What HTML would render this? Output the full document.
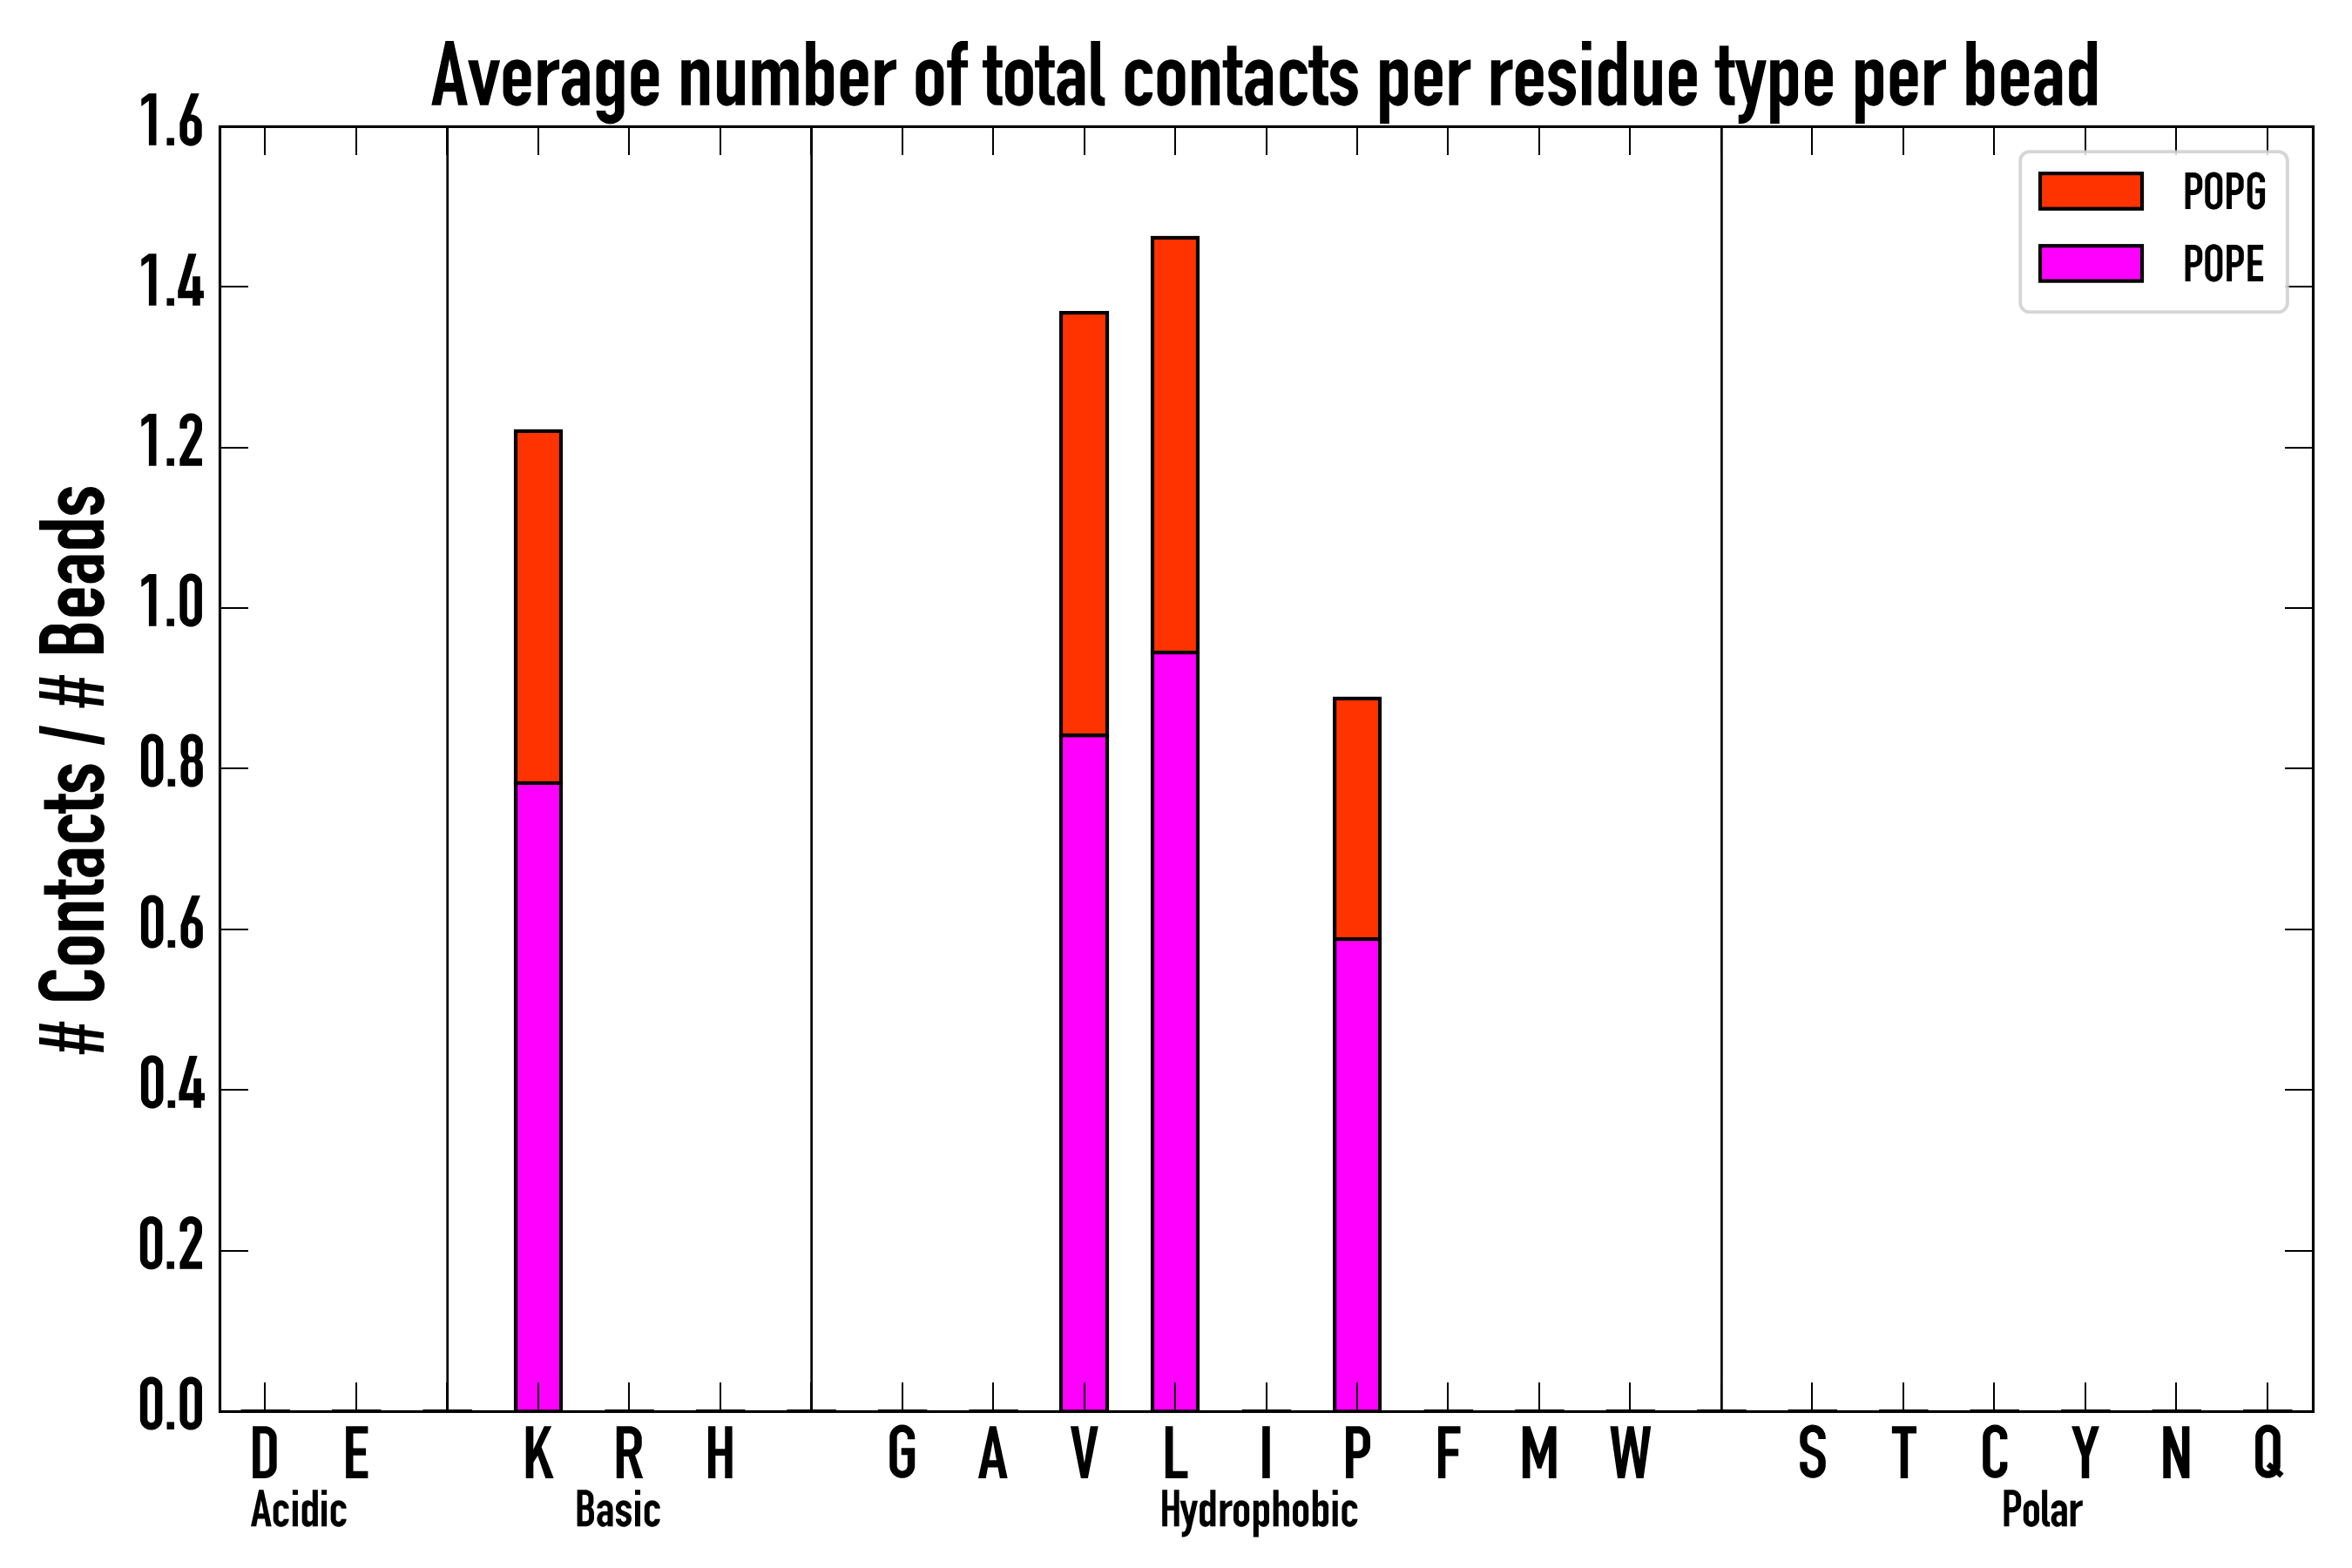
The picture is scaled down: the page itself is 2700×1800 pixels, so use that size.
<!DOCTYPE html>
<html><head><meta charset="utf-8"><title>Average number of total contacts per residue type per bead</title>
<style>
html,body{margin:0;padding:0;background:#fff;}
body{width:2700px;height:1800px;overflow:hidden;font-family:"Liberation Sans",sans-serif;}
svg{display:block;}
</style></head><body>
<svg width="2700" height="1800" viewBox="0 0 2700 1800">
<title>Average number of total contacts per residue type per bead</title>
<desc>Stacked bar chart. Y axis: # Contacts / # Beads, from 0.0 to 1.6. X axis residue types grouped as Acidic (D, E), Basic (K, R, H), Hydrophobic (G, A, V, L, I, P, F, M, W) and Polar (S, T, C, Y, N, Q). Legend: POPG (orange-red), POPE (magenta). Non-zero bars: K, V, L and P.</desc>
<defs><path id="g35" d="M331 213L271 213L242 0L175 0L203 213L119 213L90 0L22 0L49 213L0 213L0 270L57 270L78 435L31 435L31 491L85 491L114 716L187 716L157 491L239 491L268 716L340 716L309 491L362 491L362 435L302 435L279 270L331 270ZM127 270L210 270L232 435L149 435Z"/><path id="g46" d="M102 0L0 0L0 102L102 102Z"/><path id="g47" d="M0 -9L131 716L214 716L81 -9Z"/><path id="g48" d="M1 589L4 606L9 622L15 638L23 653L33 667L45 680L58 691L72 701L87 709L102 716L119 721L136 724L153 724L170 724L187 721L204 716L219 709L234 701L248 691L261 680L273 667L283 653L291 638L297 622L302 606L305 589L306 572L306 144L305 127L302 110L297 94L291 78L283 63L273 49L261 36L248 25L234 15L219 7L204 0L187 -5L170 -8L153 -8L136 -8L119 -5L102 0L87 7L72 15L58 25L45 36L33 49L23 63L15 78L9 94L4 110L1 127L0 144L0 572ZM101 144L102 133L106 122L109 117L116 108L121 104L130 98L141 94L153 92L165 94L176 98L181 100L190 108L197 117L200 122L204 133L205 139L205 577L202 589L200 594L194 604L190 608L185 612L176 618L170 621L159 623L147 623L136 621L125 616L121 612L112 604L109 599L104 589L101 577Z"/><path id="g49" d="M206 716L206 0L103 0L103 612L0 537L0 639L103 716Z"/><path id="g50" d="M307 0L0 0L0 89L2 93L2 101L6 101L180 438L193 465L197 476L200 485L203 503L205 527L205 575L206 575L206 577L203 588L198 599L191 608L181 615L171 621L159 623L148 623L136 621L126 615L116 608L109 599L104 588L101 577L101 571L101 514L0 514L0 572L1 588L4 605L9 622L15 638L24 653L33 667L45 680L58 691L72 701L87 709L103 716L119 721L136 724L154 724L171 724L188 721L204 716L220 709L235 701L249 691L262 680L274 667L283 653L292 638L298 622L303 605L306 588L307 575L307 503L303 477L299 458L292 436L283 414L272 391L122 101L307 101Z"/><path id="g52" d="M356 205L356 102L306 102L306 0L203 0L203 102L0 102L0 205L145 716L255 716L103 205L203 205L203 404L306 404L306 205Z"/><path id="g54" d="M151 425L169 424L186 421L202 416L218 410L233 402L247 392L259 380L271 368L281 354L289 339L295 323L300 307L303 290L304 273L304 144L303 126L300 110L295 93L289 78L281 63L271 49L259 36L247 25L233 15L218 7L202 0L186 -5L169 -8L152 -8L135 -8L118 -5L102 0L86 7L71 15L57 25L45 36L33 49L23 63L15 78L9 93L4 110L1 126L0 144L0 310L153 716L268 716ZM102 138L104 127L107 122L109 117L116 108L121 104L130 98L135 96L146 93L152 93L163 94L169 96L179 101L183 104L191 112L197 122L200 127L201 132L202 144L202 292L200 303L195 313L191 318L183 326L174 332L169 334L163 336L152 337L141 336L130 332L121 326L113 318L109 313L104 303L102 292L102 286Z"/><path id="g56" d="M4 293L9 309L15 325L23 340L33 354L45 366L49 370L45 375L33 387L23 401L15 416L9 432L4 448L1 465L0 482L0 572L1 590L4 606L9 623L15 638L23 653L33 667L45 680L57 691L71 701L86 709L102 716L118 721L135 724L152 724L169 724L186 721L202 716L218 709L233 701L247 691L259 680L271 667L281 653L289 638L295 623L300 606L303 590L304 572L304 482L303 465L300 448L295 432L289 416L281 401L271 387L259 375L255 370L259 366L271 354L281 340L289 325L295 309L300 293L303 276L304 259L304 144L303 126L300 110L295 93L289 78L281 63L271 49L259 36L247 25L233 15L218 7L202 0L186 -5L169 -8L152 -8L135 -8L118 -5L102 0L86 7L71 15L57 25L45 36L33 49L23 63L15 78L9 93L4 110L1 126L0 144L0 259L1 276ZM102 138L104 127L107 122L109 117L116 108L121 104L130 98L135 96L146 93L152 93L163 94L169 96L179 101L183 104L191 112L197 122L200 127L201 132L202 144L202 292L200 303L195 313L188 322L183 326L174 332L169 331L152 330L135 331L130 332L121 326L113 318L109 313L104 303L102 292L102 286ZM135 410L152 411L169 410L174 409L179 412L188 419L195 428L200 438L202 449L202 574L201 585L200 590L195 600L188 609L179 616L174 619L163 623L158 624L146 624L141 623L130 619L121 613L116 609L109 600L104 590L102 579L102 454L103 443L104 438L109 428L116 419L121 415L130 409Z"/><path id="g65" d="M157 716L247 716L404 0L299 0L271 149L133 149L105 0L0 0ZM152 249L252 249L202 518Z"/><path id="g66" d="M282 368L294 354L305 339L314 323L321 305L326 288L329 269L330 251L330 165L329 147L326 128L321 111L314 93L305 77L294 62L282 48L268 36L253 25L237 16L219 9L202 4L183 1L165 0L0 0L0 716L160 716L178 715L196 712L213 707L229 700L245 691L260 681L273 669L285 656L295 641L304 625L311 609L316 592L319 574L320 556L320 487L319 469L316 451L311 434L304 418L295 402L285 387L274 375ZM173 100L180 102L187 104L194 106L200 110L206 114L211 119L216 124L220 130L224 136L226 143L228 150L230 157L230 164L230 263L230 270L228 277L226 284L224 291L220 297L216 303L211 308L206 313L200 317L194 321L187 323L180 325L173 327L166 327L101 327L101 100L166 100ZM101 416L167 416L173 418L180 419L186 422L192 425L197 429L202 434L207 439L211 444L214 450L217 456L218 463L220 469L220 476L220 556L220 563L218 569L217 576L214 582L211 588L207 593L202 598L197 603L192 607L186 610L180 613L173 614L167 616L160 616L101 616Z"/><path id="g67" d="M4 595L9 613L17 630L26 647L37 662L49 677L64 689L79 700L96 709L113 717L131 722L150 725L169 726L188 725L207 722L225 717L242 709L259 700L274 689L289 677L301 662L312 647L321 630L329 613L334 595L337 576L338 557L338 526L237 526L237 565L235 572L233 579L230 587L227 593L222 599L217 605L211 610L205 615L199 618L191 621L184 623L177 625L169 625L161 625L154 623L147 621L139 618L133 615L127 610L121 605L116 599L111 593L108 587L105 579L103 572L101 565L101 557L101 159L101 151L103 144L105 137L108 129L111 123L116 117L121 111L127 106L133 101L139 98L147 95L154 93L161 91L169 91L177 91L184 93L191 95L199 98L205 101L211 106L217 111L222 117L227 123L230 129L233 137L235 144L237 151L237 159L237 214L338 214L338 159L337 140L334 121L329 103L321 86L312 69L301 54L289 39L274 27L259 16L242 7L225 -1L207 -6L188 -9L169 -10L150 -9L131 -6L113 -1L96 7L79 16L64 27L49 39L37 54L26 69L17 86L9 103L4 121L1 140L0 159L0 557L1 576Z"/><path id="g68" d="M0 716L165 716L183 715L202 712L219 707L237 700L253 691L268 680L282 668L294 654L305 639L314 623L321 605L326 588L329 569L330 551L330 165L329 147L326 128L321 111L314 93L305 77L294 62L282 48L268 36L253 25L237 16L219 9L202 4L183 1L165 0L0 0ZM163 99L170 99L178 101L185 103L192 106L198 109L204 113L210 118L215 124L219 130L222 136L225 143L227 150L229 158L229 165L229 551L229 558L227 566L225 573L222 580L219 586L215 592L210 598L204 603L198 607L192 610L185 613L178 615L170 617L163 617L100 617L100 99Z"/><path id="g69" d="M303 0L0 0L0 716L303 716L303 617L100 617L100 412L275 412L275 314L100 314L100 99L303 99Z"/><path id="g70" d="M278 405L278 306L100 306L100 0L0 0L0 716L306 716L306 617L100 617L100 405Z"/><path id="g71" d="M347 405L347 164L346 144L343 125L337 106L330 88L320 71L309 55L296 41L282 28L266 17L249 7L231 0L212 -6L193 -9L174 -10L154 -9L135 -6L116 0L98 7L81 17L65 28L51 41L38 55L27 71L17 88L10 106L4 125L1 144L0 164L0 552L1 572L4 591L10 610L17 628L27 645L38 661L51 675L65 688L81 699L98 709L116 716L135 722L154 725L174 726L193 725L212 722L231 716L249 709L266 699L282 688L296 675L309 661L320 645L330 628L337 610L343 591L346 572L347 552L347 526L246 526L246 561L244 569L242 576L239 584L235 591L230 598L225 604L219 609L212 614L205 618L197 621L190 623L182 625L174 625L165 625L157 623L150 621L142 618L135 614L128 609L122 604L117 598L112 591L108 584L105 576L103 569L101 561L101 552L101 164L101 155L103 147L105 140L108 132L112 125L117 118L122 112L128 107L135 102L142 98L150 95L157 93L165 91L174 91L182 91L190 93L197 95L205 98L212 102L219 107L225 112L230 118L235 125L239 132L242 140L244 147L246 155L246 164L246 310L161 310L161 405Z"/><path id="g72" d="M331 716L331 0L231 0L231 310L100 310L100 0L0 0L0 716L100 716L100 405L231 405L231 716Z"/><path id="g73" d="M103 0L0 0L0 716L103 716Z"/><path id="g75" d="M103 0L0 0L0 716L103 716L103 395L252 716L353 716L214 430L383 0L270 0L163 312L103 216Z"/><path id="g76" d="M307 99L307 0L0 0L0 716L103 716L103 99Z"/><path id="g77" d="M103 0L0 0L0 716L103 716L232 333L361 716L464 716L464 0L361 0L361 436L258 134L206 134L103 436Z"/><path id="g78" d="M102 0L0 0L0 716L102 716L259 285L259 716L361 716L361 0L259 0L102 430Z"/><path id="g79" d="M1 575L4 594L10 612L17 630L26 646L37 662L50 676L64 689L80 700L96 709L114 716L132 722L151 725L170 726L189 725L208 722L226 716L244 709L260 700L276 689L290 676L303 662L314 646L323 630L330 612L336 594L339 575L340 556L340 160L339 141L336 122L330 104L323 86L314 70L303 54L290 40L276 27L260 16L244 7L226 0L208 -6L189 -9L170 -10L151 -9L132 -6L114 0L96 7L80 16L64 27L50 40L37 54L26 70L17 86L10 104L4 122L1 141L0 160L0 556ZM101 160L101 152L103 145L105 137L108 130L112 123L116 117L121 111L127 106L133 102L140 98L147 95L155 93L162 91L170 91L178 91L185 93L193 95L200 98L207 102L213 106L219 111L224 117L228 123L232 130L235 137L237 145L239 152L239 160L239 556L239 564L237 571L235 579L232 586L228 593L224 599L219 605L213 610L207 614L200 618L193 621L185 623L178 625L170 625L162 625L155 623L147 621L140 618L133 614L127 610L121 605L116 599L112 593L108 586L105 579L103 571L101 564L101 556Z"/><path id="g80" d="M101 0L0 0L0 716L165 716L184 715L203 712L221 706L239 699L255 690L271 679L285 666L298 652L309 636L318 620L325 602L331 584L334 565L335 546L335 444L334 425L331 406L325 388L318 370L309 354L298 338L285 324L271 311L255 300L239 291L221 284L203 278L184 275L165 274L101 274ZM101 375L165 375L173 375L180 377L188 379L195 382L202 386L208 390L214 395L219 401L223 407L227 414L230 421L232 429L234 436L234 444L234 547L234 555L232 562L230 570L227 577L223 584L219 590L214 596L208 601L202 605L195 609L188 612L180 614L173 616L165 616L101 616Z"/><path id="g81" d="M390 54L338 -7L289 36L279 28L264 16L247 7L229 0L210 -6L191 -9L172 -10L153 -9L134 -6L115 0L97 7L80 16L65 28L50 40L38 55L26 70L17 87L10 105L4 124L1 143L0 162L0 554L1 573L4 592L10 611L17 629L26 646L38 661L50 676L65 688L80 700L97 709L115 716L134 722L153 725L172 726L191 725L210 722L229 716L247 709L264 700L279 688L294 676L306 661L318 646L327 629L334 611L340 592L343 573L344 554L344 162L343 143L340 124L334 105L333 101ZM243 174L243 554L243 562L241 570L239 577L236 585L232 592L228 598L222 604L216 610L210 614L203 618L195 621L188 623L180 625L172 625L164 625L156 623L149 621L141 618L134 614L128 610L122 604L116 598L112 592L108 585L105 577L103 570L101 562L101 554L101 162L101 154L103 146L105 139L108 131L112 124L116 118L122 112L128 106L134 102L141 98L149 95L156 93L164 91L172 91L180 91L188 93L195 95L203 98L211 103L152 154L200 209Z"/><path id="g82" d="M365 0L255 0L165 299L99 299L99 0L0 0L0 716L177 716L196 715L215 712L233 706L251 699L267 690L283 679L297 666L310 652L321 636L330 620L337 602L343 584L346 565L347 546L347 469L346 450L343 431L337 413L330 395L321 379L310 363L297 349L283 336L267 325L255 318ZM177 397L185 397L192 399L200 401L207 404L214 408L220 412L226 417L231 423L235 429L239 436L242 443L244 451L246 458L246 466L246 547L246 555L244 562L242 570L239 577L235 584L231 590L226 596L220 601L214 605L207 609L200 612L192 614L185 616L177 616L99 616L99 397Z"/><path id="g83" d="M253 548L252 558L251 566L249 574L245 582L241 589L236 596L231 603L224 608L217 613L210 617L202 621L194 623L186 624L177 625L168 624L160 623L152 621L144 617L137 613L130 608L123 603L118 596L113 589L109 582L105 574L103 566L102 558L101 548L101 496L103 481L106 470L113 457L121 446L132 437L137 433L145 429L253 378L269 370L283 360L297 349L308 337L322 319L332 303L342 283L348 265L352 242L354 223L354 167L353 150L350 130L345 111L338 93L325 70L317 59L304 44L290 30L274 19L251 6L233 -1L214 -6L194 -9L180 -10L160 -9L140 -6L121 -1L103 6L80 19L64 30L50 44L40 54L29 70L19 88L11 106L4 130L2 144L0 164L0 214L101 214L101 168L102 158L103 150L105 142L109 134L113 127L118 120L123 113L130 108L137 103L144 99L152 95L160 93L168 92L177 91L186 92L194 93L202 95L210 99L217 103L224 108L231 113L236 120L241 127L245 134L249 142L251 150L252 158L253 168L253 220L251 235L248 246L241 259L233 270L222 279L217 283L209 287L101 338L85 346L71 356L57 367L46 379L32 397L22 413L12 433L6 451L2 474L0 493L0 549L1 566L4 586L9 605L16 623L29 646L37 657L50 672L69 689L85 700L98 707L116 715L135 721L160 725L180 726L200 724L219 721L238 715L251 710L269 700L290 686L304 672L314 662L325 646L335 628L345 605L349 591L352 572L354 552L354 528L253 528Z"/><path id="g84" d="M220 0L118 0L118 616L0 616L0 716L338 716L338 616L220 616Z"/><path id="g86" d="M0 716L108 716L191 209L274 716L382 716L239 0L143 0Z"/><path id="g87" d="M0 716L107 716L155 255L237 716L324 716L406 255L454 716L561 716L458 0L361 0L280 464L200 0L103 0Z"/><path id="g89" d="M0 716L107 716L191 437L275 716L382 716L242 306L242 0L140 0L140 306Z"/><path id="g97" d="M34 36L26 49L18 63L12 78L7 94L3 111L1 128L0 145L1 162L3 178L7 195L13 210L20 225L28 239L38 251L49 262L61 272L74 280L87 287L101 291L115 294L130 295L207 295L207 359L206 365L202 376L196 385L187 394L178 400L172 402L161 405L155 405L143 404L132 400L123 394L118 390L111 381L108 376L104 365L103 354L0 354L1 371L4 388L9 405L15 421L24 436L34 451L45 464L58 475L73 485L88 494L104 500L121 505L138 508L155 509L172 508L189 505L206 500L222 494L237 485L252 475L265 464L276 451L286 436L295 421L301 405L306 388L309 371L310 356L310 0L207 0L207 39L194 25L183 15L171 6L158 0L145 -5L131 -8L117 -9L104 -8L91 -5L78 0L66 6L55 15L44 25ZM160 218L154 218L147 216L141 214L135 211L129 207L124 203L119 197L115 191L111 185L108 178L105 170L103 163L102 155L102 147L102 139L103 131L105 124L108 116L111 109L115 103L119 97L124 91L129 87L135 83L141 80L147 78L154 76L160 76L166 76L173 78L179 80L185 83L191 87L196 91L201 97L207 106L207 218Z"/><path id="g98" d="M299 56L293 45L286 34L278 25L269 16L259 9L248 2L237 -3L225 -6L213 -8L201 -9L188 -8L176 -6L164 -3L152 2L141 9L131 16L121 25L113 34L105 45L103 49L103 0L0 0L0 716L103 716L103 451L105 455L113 466L121 475L131 484L141 491L152 498L164 503L176 506L188 508L201 509L213 508L225 506L237 503L248 498L259 491L269 484L278 475L286 466L293 455L299 444L304 432L307 420L309 407L310 394L310 106L309 93L307 80L304 68ZM103 141L104 135L108 124L111 119L118 110L123 106L132 100L143 96L149 95L155 95L167 96L178 100L183 103L192 110L199 119L202 124L206 135L207 147L207 359L206 365L202 376L199 381L192 390L187 394L178 400L167 404L155 405L143 404L132 400L127 397L118 390L111 381L108 376L104 365L103 353Z"/><path id="g99" d="M4 390L9 407L15 422L23 437L33 451L45 464L58 476L72 486L87 494L102 500L119 505L136 508L153 509L170 508L187 505L204 500L219 494L234 486L248 476L261 464L273 451L283 437L291 422L297 407L302 390L305 373L306 349L204 349L204 360L201 371L196 381L189 390L180 397L170 402L159 405L153 405L147 405L136 402L126 397L121 394L113 386L107 376L105 371L102 360L102 140L105 129L107 124L110 119L117 110L126 103L136 98L147 95L159 95L164 96L170 98L180 103L189 110L193 114L196 119L201 129L203 135L204 143L306 143L305 127L302 110L297 93L291 78L283 63L273 49L261 36L248 24L234 14L219 6L204 0L187 -5L170 -8L153 -9L136 -8L119 -5L102 0L87 6L72 14L58 24L45 36L33 49L23 63L15 78L9 93L4 110L1 127L0 144L0 356L1 373Z"/><path id="g100" d="M11 56L6 68L3 80L1 93L0 106L0 394L1 407L3 420L6 432L11 444L17 455L24 466L32 475L41 484L51 491L62 498L73 503L85 506L97 508L109 509L122 508L134 506L146 503L158 498L169 491L179 484L189 475L197 466L205 455L207 451L207 716L310 716L310 0L207 0L207 49L205 45L197 34L189 25L179 16L169 9L158 2L146 -3L134 -6L122 -8L109 -9L97 -8L85 -6L73 -3L62 2L51 9L41 16L32 25L24 34L17 45ZM207 141L207 353L206 365L202 376L199 381L192 390L183 397L178 400L167 404L155 405L143 404L132 400L123 394L118 390L111 381L108 376L104 365L103 359L103 147L104 135L108 124L111 119L118 110L123 106L132 100L138 98L143 96L155 95L167 96L178 100L183 103L192 110L199 119L202 124L206 135Z"/><path id="g101" d="M9 405L15 421L24 436L34 451L45 464L58 475L73 485L88 494L104 500L121 505L138 508L155 509L172 508L189 505L206 500L222 494L237 485L252 475L265 464L276 451L286 436L295 421L301 405L306 388L309 371L310 354L310 211L103 211L103 147L104 135L106 130L111 119L118 110L127 103L138 98L149 95L161 95L172 98L183 103L192 110L199 119L204 130L206 135L207 143L310 143L309 129L306 112L301 95L295 79L286 64L276 49L265 36L252 25L237 15L222 6L206 0L189 -5L172 -8L155 -9L138 -8L121 -5L104 0L88 6L73 15L58 25L45 36L34 49L24 64L15 79L9 95L4 112L1 129L0 146L0 354L1 371L4 388ZM207 359L204 370L199 381L192 390L187 394L178 400L167 404L161 405L149 405L138 402L127 397L118 390L111 381L108 376L104 365L103 353L103 289L207 289Z"/><path id="g102" d="M153 0L50 0L50 420L0 420L0 500L50 500L50 563L51 579L53 596L57 613L62 629L68 644L76 658L85 671L95 682L106 692L117 701L130 707L143 712L156 715L169 716L232 716L232 615L189 615L180 612L176 610L168 604L162 595L159 591L155 580L153 569L153 500L232 500L232 420L153 420Z"/><path id="g103" d="M301 -111L295 -126L286 -141L276 -154L265 -167L252 -178L237 -187L222 -195L206 -202L189 -206L172 -209L155 -210L138 -209L121 -206L104 -202L88 -195L73 -187L58 -178L45 -167L34 -154L24 -141L15 -126L9 -111L4 -95L1 -79L0 -62L103 -62L104 -72L108 -82L111 -87L118 -95L127 -102L132 -104L143 -108L155 -109L161 -109L172 -106L178 -104L187 -99L192 -95L199 -87L204 -78L207 -67L207 49L205 45L197 34L189 25L179 16L169 9L158 2L146 -3L134 -6L122 -8L109 -9L97 -8L85 -6L73 -3L62 2L51 9L41 16L32 25L24 34L17 45L11 56L6 68L3 80L1 93L0 106L0 394L1 407L3 420L6 432L11 444L17 455L24 466L32 475L41 484L51 491L62 498L73 503L85 506L97 508L109 509L122 508L134 506L146 503L158 498L169 491L179 484L189 475L197 466L205 455L207 451L207 500L310 500L310 -62L309 -79L306 -95ZM207 359L206 365L202 376L199 381L192 390L187 394L178 400L167 404L161 405L149 405L138 402L132 400L123 394L118 390L111 381L108 376L104 365L103 353L103 141L104 135L108 124L111 119L118 110L123 106L132 100L143 96L155 95L161 95L172 98L183 103L192 110L196 115L202 124L206 135L207 147Z"/><path id="g104" d="M113 466L121 475L131 484L141 491L152 498L164 503L176 506L188 508L201 509L213 508L225 506L237 503L248 498L259 491L269 484L278 475L286 466L293 455L299 444L304 432L307 420L309 407L310 394L310 0L207 0L207 360L206 366L202 377L196 386L187 395L178 401L172 403L161 406L155 406L149 406L138 403L132 401L123 395L114 386L108 377L104 366L103 360L103 0L0 0L0 716L103 716L103 451L105 455Z"/><path id="g105" d="M0 0L0 500L103 500L103 0ZM0 615L0 716L103 716L103 615Z"/><path id="g108" d="M94 -6L82 -4L71 1L60 6L50 14L40 22L31 32L23 43L16 56L10 69L6 83L3 97L1 112L0 126L0 716L103 716L103 127L104 118L108 109L111 105L118 98L127 92L137 87L148 85L155 85L155 -7L106 -7Z"/><path id="g109" d="M103 500L103 451L105 455L113 466L121 475L131 484L141 491L152 498L164 503L176 506L188 508L201 509L213 508L225 506L237 503L248 498L259 491L269 484L278 475L286 466L293 455L299 444L304 432L307 420L310 403L310 451L312 455L319 466L328 475L337 484L347 491L358 498L370 503L382 506L395 508L408 509L420 508L432 506L444 503L455 498L465 491L475 484L485 475L493 466L500 455L506 444L510 432L514 420L516 407L516 394L516 0L414 0L413 360L411 371L408 377L402 386L394 395L384 401L379 403L367 406L362 406L356 406L344 403L339 401L329 395L325 391L317 382L312 371L310 361L310 0L207 0L207 360L206 366L202 377L196 386L187 395L178 401L172 403L161 406L155 406L149 406L138 403L132 401L123 395L114 386L108 377L104 366L103 360L103 0L0 0L0 500Z"/><path id="g110" d="M0 0L0 500L103 500L103 451L105 455L113 466L121 475L131 484L141 491L152 498L164 503L176 506L188 508L201 509L213 508L225 506L237 503L248 498L259 491L269 484L278 475L286 466L293 455L299 444L304 432L307 420L309 407L310 394L310 0L207 0L207 360L206 366L202 377L196 386L187 395L178 401L172 403L161 406L155 406L149 406L138 403L132 401L123 395L114 386L108 377L104 366L103 360L103 0Z"/><path id="g111" d="M1 371L4 388L9 405L15 421L24 436L34 451L45 464L58 475L73 485L88 494L104 500L121 505L138 508L155 509L172 508L189 505L206 500L222 494L237 485L252 475L265 464L276 451L286 436L295 421L301 405L306 388L309 371L310 354L310 146L309 129L306 112L301 95L295 79L286 64L276 49L265 36L252 25L237 15L222 6L206 0L189 -5L172 -8L155 -9L138 -8L121 -5L104 0L88 6L73 15L58 25L45 36L34 49L24 64L15 79L9 95L4 112L1 129L0 146L0 354ZM103 147L104 135L108 124L111 119L118 110L123 106L132 100L143 96L149 95L155 95L167 96L178 100L183 103L192 110L199 119L202 124L206 135L207 147L207 359L206 365L202 376L199 381L192 390L187 394L178 400L167 404L155 405L143 404L132 400L127 397L118 390L111 381L108 376L104 365L103 353Z"/><path id="g112" d="M103 -208L0 -208L0 500L103 500L103 451L105 455L113 466L121 475L131 484L141 491L152 498L164 503L176 506L188 508L201 509L213 508L225 506L237 503L248 498L259 491L269 484L278 475L286 466L293 455L299 444L304 432L307 420L309 407L310 394L310 106L309 93L307 80L304 68L299 56L293 45L286 34L278 25L269 16L259 9L248 2L237 -3L225 -6L213 -8L201 -9L188 -8L176 -6L164 -3L152 2L141 9L131 16L121 25L113 34L105 45L103 49ZM103 147L104 135L108 124L111 119L118 110L123 106L132 100L143 96L149 95L155 95L167 96L178 100L183 103L192 110L199 119L202 124L206 135L207 147L207 359L206 365L202 376L199 381L192 390L187 394L178 400L167 404L155 405L143 404L132 400L127 397L118 390L111 381L108 376L104 365L103 353Z"/><path id="g114" d="M103 0L0 0L0 500L103 500L103 435L113 448L126 462L141 474L157 484L174 493L192 500L211 505L230 508L240 508L240 402L234 401L217 399L201 396L186 391L172 385L158 378L146 369L135 360L126 350L118 339L111 327L107 315L104 303L103 290Z"/><path id="g115" d="M207 353L207 361L204 372L199 383L191 392L182 400L171 405L166 407L154 408L142 407L131 403L126 400L117 392L109 383L104 372L101 361L101 354L102 345L105 337L110 330L118 323L129 316L217 277L234 269L247 260L258 252L269 243L278 232L289 217L296 204L301 190L305 176L307 159L308 142L307 125L303 108L298 91L291 76L286 66L276 51L261 34L248 23L233 13L218 5L202 -1L191 -4L174 -8L157 -9L140 -8L117 -4L100 1L90 5L70 16L60 23L47 34L32 51L25 61L17 76L8 97L3 114L1 125L0 148L101 148L101 139L104 128L109 117L117 108L126 100L137 95L148 92L154 92L166 93L177 97L187 104L195 112L202 122L206 133L207 139L207 146L206 157L203 163L200 169L194 174L187 179L175 185L91 223L74 231L63 238L52 246L41 255L32 266L22 279L14 292L7 310L3 324L1 341L0 358L1 375L5 392L8 403L14 419L25 439L35 453L47 466L60 477L70 484L90 495L106 501L123 506L140 508L151 509L168 508L185 506L202 501L223 492L238 484L248 477L265 462L276 449L286 434L291 424L300 403L303 392L307 375L308 353Z"/><path id="g116" d="M129 3L118 7L108 13L98 20L88 28L80 37L72 48L66 60L60 72L56 86L53 100L51 114L50 127L50 420L0 420L0 500L50 500L50 662L153 662L153 500L221 500L221 420L153 420L153 146L154 135L157 125L162 116L168 108L176 103L185 99L189 98L221 98L221 0L152 0L141 1Z"/><path id="g117" d="M310 500L310 0L207 0L207 49L205 45L197 34L189 25L179 16L169 9L158 2L146 -3L134 -6L122 -8L109 -9L97 -8L85 -6L73 -3L62 2L51 9L41 16L32 25L24 34L17 45L11 56L6 68L3 80L1 93L0 106L0 500L103 500L103 140L104 134L108 123L114 114L123 105L132 99L138 97L149 94L155 94L167 95L178 99L187 105L192 109L199 118L202 123L206 134L207 140L207 500Z"/><path id="g118" d="M0 500L112 500L180 176L254 500L359 500L228 0L135 0Z"/><path id="g121" d="M221 -55L213 -81L208 -95L199 -115L193 -127L183 -144L175 -155L168 -163L156 -175L145 -183L131 -192L119 -197L104 -202L93 -205L75 -207L61 -208L39 -208L39 -108L64 -108L71 -107L77 -106L84 -104L88 -101L92 -97L97 -92L103 -84L109 -72L118 -49L127 -18L138 25L0 500L108 500L178 198L248 500L351 500L225 -41Z"/></defs>
<rect width="2700" height="1800" fill="#fff"/>
<clipPath id="axclip"><rect x="252.5" y="145.4" width="2403.0" height="1475.05"/></clipPath>
<g stroke="#000" stroke-width="4.17" stroke-linejoin="miter" clip-path="url(#axclip)">
<rect x="276.53" y="1618.0" width="56.41" height="4.0" fill="#000" stroke="none"/>
<rect x="381.01" y="1618.0" width="56.41" height="4.0" fill="#000" stroke="none"/>
<rect x="485.49" y="1618.0" width="56.41" height="4.0" fill="#000" stroke="none"/>
<rect x="592.00" y="898.95" width="52.00" height="721.50" fill="#ff00ff"/>
<rect x="592.00" y="494.90" width="52.00" height="404.05" fill="#ff3300"/>
<rect x="694.45" y="1618.0" width="56.41" height="4.0" fill="#000" stroke="none"/>
<rect x="798.93" y="1618.0" width="56.41" height="4.0" fill="#000" stroke="none"/>
<rect x="903.40" y="1618.0" width="56.41" height="4.0" fill="#000" stroke="none"/>
<rect x="1007.88" y="1618.0" width="56.41" height="4.0" fill="#000" stroke="none"/>
<rect x="1112.36" y="1618.0" width="56.41" height="4.0" fill="#000" stroke="none"/>
<rect x="1218.00" y="844.10" width="53.00" height="776.35" fill="#ff00ff"/>
<rect x="1218.00" y="359.05" width="53.00" height="485.05" fill="#ff3300"/>
<rect x="1323.00" y="749.00" width="52.00" height="871.45" fill="#ff00ff"/>
<rect x="1323.00" y="272.95" width="52.00" height="476.05" fill="#ff3300"/>
<rect x="1425.80" y="1618.0" width="56.41" height="4.0" fill="#000" stroke="none"/>
<rect x="1532.10" y="1078.00" width="51.90" height="542.45" fill="#ff00ff"/>
<rect x="1532.10" y="801.90" width="51.90" height="276.10" fill="#ff3300"/>
<rect x="1634.75" y="1618.0" width="56.41" height="4.0" fill="#000" stroke="none"/>
<rect x="1739.23" y="1618.0" width="56.41" height="4.0" fill="#000" stroke="none"/>
<rect x="1843.71" y="1618.0" width="56.41" height="4.0" fill="#000" stroke="none"/>
<rect x="1948.19" y="1618.0" width="56.41" height="4.0" fill="#000" stroke="none"/>
<rect x="2052.66" y="1618.0" width="56.41" height="4.0" fill="#000" stroke="none"/>
<rect x="2157.14" y="1618.0" width="56.41" height="4.0" fill="#000" stroke="none"/>
<rect x="2261.62" y="1618.0" width="56.41" height="4.0" fill="#000" stroke="none"/>
<rect x="2366.10" y="1618.0" width="56.41" height="4.0" fill="#000" stroke="none"/>
<rect x="2470.58" y="1618.0" width="56.41" height="4.0" fill="#000" stroke="none"/>
<rect x="2575.06" y="1618.0" width="56.41" height="4.0" fill="#000" stroke="none"/>
</g>
<g stroke="#000" stroke-width="2.7">
<line x1="513.70" y1="145.40" x2="513.70" y2="1620.45"/>
<line x1="931.61" y1="145.40" x2="931.61" y2="1620.45"/>
<line x1="1976.39" y1="145.40" x2="1976.39" y2="1620.45"/>
</g>
<g fill="#000" stroke="none">
<rect x="303" y="1587" width="2" height="33.45"/>
<rect x="303" y="145.40" width="2" height="32.60"/>
<rect x="408" y="1587" width="2" height="33.45"/>
<rect x="408" y="145.40" width="2" height="32.60"/>
<rect x="512" y="1587" width="2" height="33.45"/>
<rect x="512" y="145.40" width="2" height="32.60"/>
<rect x="617" y="1587" width="2" height="33.45"/>
<rect x="617" y="145.40" width="2" height="32.60"/>
<rect x="721" y="1587" width="2" height="33.45"/>
<rect x="721" y="145.40" width="2" height="32.60"/>
<rect x="826" y="1587" width="2" height="33.45"/>
<rect x="826" y="145.40" width="2" height="32.60"/>
<rect x="930" y="1587" width="2" height="33.45"/>
<rect x="930" y="145.40" width="2" height="32.60"/>
<rect x="1035" y="1587" width="2" height="33.45"/>
<rect x="1035" y="145.40" width="2" height="32.60"/>
<rect x="1139" y="1587" width="2" height="33.45"/>
<rect x="1139" y="145.40" width="2" height="32.60"/>
<rect x="1244" y="1587" width="2" height="33.45"/>
<rect x="1244" y="145.40" width="2" height="32.60"/>
<rect x="1348" y="1587" width="2" height="33.45"/>
<rect x="1348" y="145.40" width="2" height="32.60"/>
<rect x="1453" y="1587" width="2" height="33.45"/>
<rect x="1453" y="145.40" width="2" height="32.60"/>
<rect x="1557" y="1587" width="2" height="33.45"/>
<rect x="1557" y="145.40" width="2" height="32.60"/>
<rect x="1661" y="1587" width="2" height="33.45"/>
<rect x="1661" y="145.40" width="2" height="32.60"/>
<rect x="1766" y="1587" width="2" height="33.45"/>
<rect x="1766" y="145.40" width="2" height="32.60"/>
<rect x="1870" y="1587" width="2" height="33.45"/>
<rect x="1870" y="145.40" width="2" height="32.60"/>
<rect x="1975" y="1587" width="2" height="33.45"/>
<rect x="1975" y="145.40" width="2" height="32.60"/>
<rect x="2079" y="1587" width="2" height="33.45"/>
<rect x="2079" y="145.40" width="2" height="32.60"/>
<rect x="2184" y="1587" width="2" height="33.45"/>
<rect x="2184" y="145.40" width="2" height="32.60"/>
<rect x="2288" y="1587" width="2" height="33.45"/>
<rect x="2288" y="145.40" width="2" height="32.60"/>
<rect x="2393" y="1587" width="2" height="33.45"/>
<rect x="2393" y="145.40" width="2" height="32.60"/>
<rect x="2497" y="1587" width="2" height="33.45"/>
<rect x="2497" y="145.40" width="2" height="32.60"/>
<rect x="2602" y="1587" width="2" height="33.45"/>
<rect x="2602" y="145.40" width="2" height="32.60"/>
<rect x="252.50" y="1619" width="32.50" height="2"/>
<rect x="2623" y="1619" width="32.50" height="2"/>
<rect x="252.50" y="1435" width="32.50" height="2"/>
<rect x="2623" y="1435" width="32.50" height="2"/>
<rect x="252.50" y="1250" width="32.50" height="2"/>
<rect x="2623" y="1250" width="32.50" height="2"/>
<rect x="252.50" y="1066" width="32.50" height="2"/>
<rect x="2623" y="1066" width="32.50" height="2"/>
<rect x="252.50" y="881" width="32.50" height="2"/>
<rect x="2623" y="881" width="32.50" height="2"/>
<rect x="252.50" y="697" width="32.50" height="2"/>
<rect x="2623" y="697" width="32.50" height="2"/>
<rect x="252.50" y="513" width="32.50" height="2"/>
<rect x="2623" y="513" width="32.50" height="2"/>
<rect x="252.50" y="328" width="32.50" height="2"/>
<rect x="2623" y="328" width="32.50" height="2"/>
<rect x="252.50" y="144" width="32.50" height="2"/>
<rect x="2623" y="144" width="32.50" height="2"/>
</g>
<rect x="252.50" y="145.40" width="2403.00" height="1475.05" fill="none" stroke="#000" stroke-width="3.15"/>
<rect x="2319.2" y="174.1" width="306.70" height="184.00" rx="10.5" ry="10.5" fill="#fff" fill-opacity="0.8" stroke="#cccccc" stroke-opacity="0.8" stroke-width="3.9"/>
<rect x="2342" y="199.1" width="117" height="40.6" fill="#ff3300" stroke="#000" stroke-width="4.17"/>
<rect x="2342" y="282.2" width="117" height="40.4" fill="#ff00ff" stroke="#000" stroke-width="4.17"/>
<g fill="#000" fill-rule="evenodd">
<use href="#g65" transform="matrix(0.10293 0 0 -0.10293 495.30 120.70)"/>
<use href="#g118" transform="matrix(0.10293 0 0 -0.10293 537.17 120.70)"/>
<use href="#g101" transform="matrix(0.10293 0 0 -0.10293 577.60 120.70)"/>
<use href="#g114" transform="matrix(0.10293 0 0 -0.10293 617.41 120.70)"/>
<use href="#g97" transform="matrix(0.10293 0 0 -0.10293 644.87 120.70)"/>
<use href="#g103" transform="matrix(0.10293 0 0 -0.10293 684.58 120.70)"/>
<use href="#g101" transform="matrix(0.10293 0 0 -0.10293 724.39 120.70)"/>
<use href="#g110" transform="matrix(0.10293 0 0 -0.10293 782.30 120.70)"/>
<use href="#g117" transform="matrix(0.10293 0 0 -0.10293 823.07 120.70)"/>
<use href="#g109" transform="matrix(0.10293 0 0 -0.10293 863.52 120.70)"/>
<use href="#g98" transform="matrix(0.10293 0 0 -0.10293 925.24 120.70)"/>
<use href="#g101" transform="matrix(0.10293 0 0 -0.10293 964.66 120.70)"/>
<use href="#g114" transform="matrix(0.10293 0 0 -0.10293 1004.30 120.70)"/>
<use href="#g111" transform="matrix(0.10293 0 0 -0.10293 1051.40 120.70)"/>
<use href="#g102" transform="matrix(0.10293 0 0 -0.10293 1087.22 120.70)"/>
<use href="#g116" transform="matrix(0.10293 0 0 -0.10293 1128.00 120.70)"/>
<use href="#g111" transform="matrix(0.10293 0 0 -0.10293 1153.93 120.70)"/>
<use href="#g116" transform="matrix(0.10293 0 0 -0.10293 1187.99 120.70)"/>
<use href="#g97" transform="matrix(0.10293 0 0 -0.10293 1213.35 120.70)"/>
<use href="#g108" transform="matrix(0.10293 0 0 -0.10293 1252.35 120.70)"/>
<use href="#g99" transform="matrix(0.10293 0 0 -0.10293 1291.70 120.70)"/>
<use href="#g111" transform="matrix(0.10293 0 0 -0.10293 1328.59 120.70)"/>
<use href="#g110" transform="matrix(0.10293 0 0 -0.10293 1368.15 120.70)"/>
<use href="#g116" transform="matrix(0.10293 0 0 -0.10293 1403.69 120.70)"/>
<use href="#g97" transform="matrix(0.10293 0 0 -0.10293 1429.20 120.70)"/>
<use href="#g99" transform="matrix(0.10293 0 0 -0.10293 1469.38 120.70)"/>
<use href="#g116" transform="matrix(0.10293 0 0 -0.10293 1502.15 120.70)"/>
<use href="#g115" transform="matrix(0.10293 0 0 -0.10293 1527.10 120.70)"/>
<use href="#g112" transform="matrix(0.10293 0 0 -0.10293 1584.20 120.70)"/>
<use href="#g101" transform="matrix(0.10293 0 0 -0.10293 1623.90 120.70)"/>
<use href="#g114" transform="matrix(0.10293 0 0 -0.10293 1663.60 120.70)"/>
<use href="#g114" transform="matrix(0.10293 0 0 -0.10293 1711.80 120.70)"/>
<use href="#g101" transform="matrix(0.10293 0 0 -0.10293 1739.81 120.70)"/>
<use href="#g115" transform="matrix(0.10293 0 0 -0.10293 1777.39 120.70)"/>
<use href="#g105" transform="matrix(0.10293 0 0 -0.10293 1816.01 120.70)"/>
<use href="#g100" transform="matrix(0.10293 0 0 -0.10293 1835.06 120.70)"/>
<use href="#g117" transform="matrix(0.10293 0 0 -0.10293 1875.94 120.70)"/>
<use href="#g101" transform="matrix(0.10293 0 0 -0.10293 1915.89 120.70)"/>
<use href="#g116" transform="matrix(0.10293 0 0 -0.10293 1968.70 120.70)"/>
<use href="#g121" transform="matrix(0.10293 0 0 -0.10293 1991.74 120.70)"/>
<use href="#g112" transform="matrix(0.10293 0 0 -0.10293 2032.17 120.70)"/>
<use href="#g101" transform="matrix(0.10293 0 0 -0.10293 2071.99 120.70)"/>
<use href="#g112" transform="matrix(0.10293 0 0 -0.10293 2130.10 120.70)"/>
<use href="#g101" transform="matrix(0.10293 0 0 -0.10293 2169.65 120.70)"/>
<use href="#g114" transform="matrix(0.10293 0 0 -0.10293 2209.20 120.70)"/>
<use href="#g98" transform="matrix(0.10293 0 0 -0.10293 2257.40 120.70)"/>
<use href="#g101" transform="matrix(0.10293 0 0 -0.10293 2297.25 120.70)"/>
<use href="#g97" transform="matrix(0.10293 0 0 -0.10293 2335.34 120.70)"/>
<use href="#g100" transform="matrix(0.10293 0 0 -0.10293 2375.19 120.70)"/>
<use href="#g35" transform="matrix(0 -0.10344 -0.10344 0 119.00 1210.17)"/>
<use href="#g67" transform="matrix(0 -0.10344 -0.10344 0 119.00 1148.70)"/>
<use href="#g111" transform="matrix(0 -0.10344 -0.10344 0 119.00 1107.23)"/>
<use href="#g110" transform="matrix(0 -0.10344 -0.10344 0 119.00 1067.73)"/>
<use href="#g116" transform="matrix(0 -0.10344 -0.10344 0 119.00 1032.26)"/>
<use href="#g97" transform="matrix(0 -0.10344 -0.10344 0 119.00 1006.87)"/>
<use href="#g99" transform="matrix(0 -0.10344 -0.10344 0 119.00 966.75)"/>
<use href="#g116" transform="matrix(0 -0.10344 -0.10344 0 119.00 934.07)"/>
<use href="#g115" transform="matrix(0 -0.10344 -0.10344 0 119.00 909.26)"/>
<use href="#g47" transform="matrix(0 -0.10344 -0.10344 0 119.00 855.17)"/>
<use href="#g35" transform="matrix(0 -0.10344 -0.10344 0 119.00 812.57)"/>
<use href="#g66" transform="matrix(0 -0.10344 -0.10344 0 119.00 750.00)"/>
<use href="#g101" transform="matrix(0 -0.10344 -0.10344 0 119.00 707.51)"/>
<use href="#g97" transform="matrix(0 -0.10344 -0.10344 0 119.00 669.47)"/>
<use href="#g100" transform="matrix(0 -0.10344 -0.10344 0 119.00 629.67)"/>
<use href="#g115" transform="matrix(0 -0.10344 -0.10344 0 119.00 590.91)"/>
<use href="#g48" transform="matrix(0.08338 0 0 -0.08338 160.85 1640.90)"/>
<use href="#g46" transform="matrix(0.08338 0 0 -0.08338 191.53 1640.90)"/>
<use href="#g48" transform="matrix(0.08338 0 0 -0.08338 206.42 1640.90)"/>
<use href="#g48" transform="matrix(0.08338 0 0 -0.08338 160.85 1456.70)"/>
<use href="#g46" transform="matrix(0.08338 0 0 -0.08338 191.53 1456.70)"/>
<use href="#g50" transform="matrix(0.08338 0 0 -0.08338 206.42 1456.70)"/>
<use href="#g48" transform="matrix(0.08338 0 0 -0.08338 161.93 1271.80)"/>
<use href="#g46" transform="matrix(0.08338 0 0 -0.08338 192.61 1271.80)"/>
<use href="#g52" transform="matrix(0.08338 0 0 -0.08338 205.37 1271.80)"/>
<use href="#g48" transform="matrix(0.08338 0 0 -0.08338 161.93 1087.80)"/>
<use href="#g46" transform="matrix(0.08338 0 0 -0.08338 192.61 1087.80)"/>
<use href="#g54" transform="matrix(0.08338 0 0 -0.08338 207.50 1087.80)"/>
<use href="#g48" transform="matrix(0.08338 0 0 -0.08338 161.93 902.80)"/>
<use href="#g46" transform="matrix(0.08338 0 0 -0.08338 192.61 902.80)"/>
<use href="#g56" transform="matrix(0.08338 0 0 -0.08338 207.50 902.80)"/>
<use href="#g49" transform="matrix(0.08338 0 0 -0.08338 162.30 718.80)"/>
<use href="#g46" transform="matrix(0.08338 0 0 -0.08338 191.48 718.80)"/>
<use href="#g48" transform="matrix(0.08338 0 0 -0.08338 206.37 718.80)"/>
<use href="#g49" transform="matrix(0.08338 0 0 -0.08338 162.30 534.75)"/>
<use href="#g46" transform="matrix(0.08338 0 0 -0.08338 191.48 534.75)"/>
<use href="#g50" transform="matrix(0.08338 0 0 -0.08338 206.37 534.75)"/>
<use href="#g49" transform="matrix(0.08338 0 0 -0.08338 162.30 350.85)"/>
<use href="#g46" transform="matrix(0.08338 0 0 -0.08338 191.48 350.85)"/>
<use href="#g52" transform="matrix(0.08338 0 0 -0.08338 204.24 350.85)"/>
<use href="#g49" transform="matrix(0.08338 0 0 -0.08338 162.30 166.85)"/>
<use href="#g46" transform="matrix(0.08338 0 0 -0.08338 191.48 166.85)"/>
<use href="#g54" transform="matrix(0.08338 0 0 -0.08338 206.37 166.85)"/>
<use href="#g68" transform="matrix(0.08338 0 0 -0.08338 290.14 1696.90)"/>
<use href="#g69" transform="matrix(0.08338 0 0 -0.08338 397.14 1696.90)"/>
<use href="#g75" transform="matrix(0.08338 0 0 -0.08338 603.73 1696.90)"/>
<use href="#g82" transform="matrix(0.08338 0 0 -0.08338 707.78 1696.90)"/>
<use href="#g72" transform="matrix(0.08338 0 0 -0.08338 813.00 1696.90)"/>
<use href="#g71" transform="matrix(0.08338 0 0 -0.08338 1021.28 1696.00)"/>
<use href="#g65" transform="matrix(0.08338 0 0 -0.08338 1122.96 1696.90)"/>
<use href="#g86" transform="matrix(0.08338 0 0 -0.08338 1228.92 1696.90)"/>
<use href="#g76" transform="matrix(0.08338 0 0 -0.08338 1337.85 1696.90)"/>
<use href="#g73" transform="matrix(0.08338 0 0 -0.08338 1449.16 1696.90)"/>
<use href="#g80" transform="matrix(0.08338 0 0 -0.08338 1545.08 1696.90)"/>
<use href="#g70" transform="matrix(0.08338 0 0 -0.08338 1650.99 1696.90)"/>
<use href="#g77" transform="matrix(0.08338 0 0 -0.08338 1747.86 1696.90)"/>
<use href="#g87" transform="matrix(0.08338 0 0 -0.08338 1848.46 1696.90)"/>
<use href="#g83" transform="matrix(0.08338 0 0 -0.08338 2066.24 1696.00)"/>
<use href="#g84" transform="matrix(0.08338 0 0 -0.08338 2171.86 1696.90)"/>
<use href="#g67" transform="matrix(0.08338 0 0 -0.08338 2276.21 1696.00)"/>
<use href="#g89" transform="matrix(0.08338 0 0 -0.08338 2378.07 1696.90)"/>
<use href="#g78" transform="matrix(0.08338 0 0 -0.08338 2483.30 1696.90)"/>
<use href="#g81" transform="matrix(0.08338 0 0 -0.08338 2589.09 1696.00)"/>
<use href="#g65" transform="matrix(0.05866 0 0 -0.05866 288.00 1752.20)"/>
<use href="#g99" transform="matrix(0.05866 0 0 -0.05866 313.67 1752.20)"/>
<use href="#g105" transform="matrix(0.05866 0 0 -0.05866 335.88 1752.20)"/>
<use href="#g100" transform="matrix(0.05866 0 0 -0.05866 346.66 1752.20)"/>
<use href="#g105" transform="matrix(0.05866 0 0 -0.05866 369.10 1752.20)"/>
<use href="#g99" transform="matrix(0.05866 0 0 -0.05866 379.70 1752.20)"/>
<use href="#g66" transform="matrix(0.05866 0 0 -0.05866 662.60 1752.20)"/>
<use href="#g97" transform="matrix(0.05866 0 0 -0.05866 685.33 1752.20)"/>
<use href="#g115" transform="matrix(0.05866 0 0 -0.05866 706.89 1752.20)"/>
<use href="#g105" transform="matrix(0.05866 0 0 -0.05866 728.98 1752.20)"/>
<use href="#g99" transform="matrix(0.05866 0 0 -0.05866 739.75 1752.20)"/>
<use href="#g72" transform="matrix(0.05866 0 0 -0.05866 1334.20 1752.20)"/>
<use href="#g121" transform="matrix(0.05866 0 0 -0.05866 1354.46 1752.20)"/>
<use href="#g100" transform="matrix(0.05866 0 0 -0.05866 1377.18 1752.20)"/>
<use href="#g114" transform="matrix(0.05866 0 0 -0.05866 1400.54 1752.20)"/>
<use href="#g111" transform="matrix(0.05866 0 0 -0.05866 1415.98 1752.20)"/>
<use href="#g112" transform="matrix(0.05866 0 0 -0.05866 1438.82 1752.20)"/>
<use href="#g104" transform="matrix(0.05866 0 0 -0.05866 1461.66 1752.20)"/>
<use href="#g111" transform="matrix(0.05866 0 0 -0.05866 1484.02 1752.20)"/>
<use href="#g98" transform="matrix(0.05866 0 0 -0.05866 1506.86 1752.20)"/>
<use href="#g105" transform="matrix(0.05866 0 0 -0.05866 1529.70 1752.20)"/>
<use href="#g99" transform="matrix(0.05866 0 0 -0.05866 1540.45 1752.20)"/>
<use href="#g80" transform="matrix(0.05866 0 0 -0.05866 2300.50 1752.20)"/>
<use href="#g111" transform="matrix(0.05866 0 0 -0.05866 2322.78 1752.20)"/>
<use href="#g108" transform="matrix(0.05866 0 0 -0.05866 2344.12 1752.20)"/>
<use href="#g97" transform="matrix(0.05866 0 0 -0.05866 2354.62 1752.20)"/>
<use href="#g114" transform="matrix(0.05866 0 0 -0.05866 2376.72 1752.20)"/>
<use href="#g80" transform="matrix(0.05866 0 0 -0.05866 2508.60 240.00)"/>
<use href="#g79" transform="matrix(0.05866 0 0 -0.05866 2531.32 240.00)"/>
<use href="#g80" transform="matrix(0.05866 0 0 -0.05866 2556.03 240.00)"/>
<use href="#g71" transform="matrix(0.05866 0 0 -0.05866 2579.75 240.00)"/>
<use href="#g80" transform="matrix(0.05866 0 0 -0.05866 2508.60 322.90)"/>
<use href="#g79" transform="matrix(0.05866 0 0 -0.05866 2531.39 322.90)"/>
<use href="#g80" transform="matrix(0.05866 0 0 -0.05866 2556.18 322.90)"/>
<use href="#g69" transform="matrix(0.05866 0 0 -0.05866 2580.33 322.90)"/>
</g>
</svg>
</body></html>
